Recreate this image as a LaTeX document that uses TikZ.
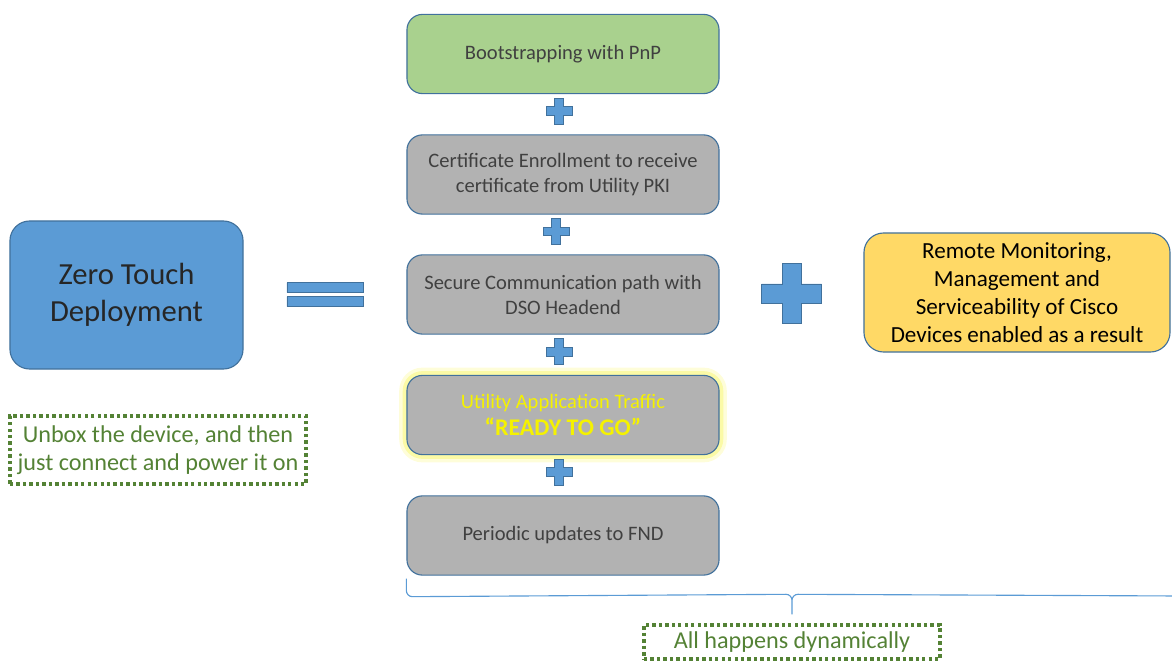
\documentclass[tikz,border=0pt]{standalone}
\usepackage{fontspec}
\setmainfont{Carlito}
\usetikzlibrary{calc}

\definecolor{boxblue}{HTML}{5B9BD5}
\definecolor{edgeblue}{HTML}{41719C}
\definecolor{stepgreen}{HTML}{A9D18E}
\definecolor{stepgray}{HTML}{B2B2B2}
\definecolor{resultyellow}{HTML}{FFD966}
\definecolor{notegreen}{HTML}{548235}
\definecolor{textgray}{HTML}{404040}
\definecolor{readyyellow}{HTML}{F5F200}

% plus sign: centre, half length, half thickness
\newcommand{\plusmark}[3]{%
  \filldraw[fill=boxblue, draw=edgeblue, line width=0.7pt, shift={#1}]
    (-#3,-#2) -- (#3,-#2) -- (#3,-#3) -- (#2,-#3) -- (#2,#3) -- (#3,#3)
    -- (#3,#2) -- (-#3,#2) -- (-#3,#3) -- (-#2,#3) -- (-#2,-#3) -- (-#3,-#3)
    -- cycle;}

\begin{document}
\begin{tikzpicture}[
  x=0.025cm, y=-0.025cm,
  stepbox/.style={draw=edgeblue, line width=0.8pt, rounded corners=11pt,
                  fill=stepgray, align=center, text=textgray,
                  font=\fontsize{14.6}{17.8}\selectfont,
                  minimum width=7.8cm, minimum height=1.98cm, inner sep=2pt},
  notebox/.style={draw=notegreen, line width=2.4pt, dash pattern=on 2.4pt off 2.2pt,
                  text=notegreen, align=center, inner sep=2pt,
                  font=\fontsize{17.2}{20}\selectfont},
]
\useasboundingbox (0,0) rectangle (1172,662);

\node[stepbox, fill=stepgreen] (boot) at (563,54) {Bootstrapping with PnP};
\node[stepbox] (cert) at (563,174.5) {Certificate Enrollment to receive\\certificate from Utility PKI};
\node[stepbox] (secure) at (563,294.5) {Secure Communication path with\\DSO Headend};
\node[stepbox, text=readyyellow,
      preaction={draw=readyyellow!15, line width=11pt},
      preaction={draw=readyyellow!35, line width=6pt}] (ready) at (563,415)
  {Utility Application Traffic\\[2pt]{\fontsize{17}{20}\selectfont\bfseries ``READY TO GO''}};
\node[stepbox] (fnd) at (563,535.5) {Periodic updates to FND};

\node[draw=edgeblue, line width=0.8pt, rounded corners=14pt, fill=boxblue,
      minimum width=5.825cm, minimum height=3.7cm, align=center, text=black!85,
      font=\fontsize{21.8}{26.3}\selectfont] (ztd) at (126.5,295) {Zero Touch\\Deployment};
\node[draw=edgeblue, line width=0.8pt, rounded corners=14pt, fill=resultyellow,
      minimum width=7.65cm, minimum height=2.975cm, align=center, text=black,
      font=\fontsize{16.4}{20}\selectfont] (result) at (1017,292.5)
  {Remote Monitoring,\\Management and\\Serviceability of Cisco\\Devices enabled as a result};

\node[notebox, minimum width=7.4cm, minimum height=1.7cm] (unbox) at (158,450)
  {Unbox the device, and then\\just connect and power it on};
\node[notebox, minimum width=7.4cm, minimum height=0.85cm, inner sep=0pt] (dyn) at (792,642)
  {All happens dynamically};

% plus signs between the steps
\plusmark{($(boot.south)!0.5!(cert.north)+(-4,-3)$)}{13}{4.3}
\plusmark{($(cert.south)!0.5!(secure.north)+(-7,-3)$)}{13}{4.3}
\plusmark{($(secure.south)!0.5!(ready.north)+(-4,-3)$)}{13}{4.3}
\plusmark{($(ready.south)!0.5!(fnd.north)+(-4,-3)$)}{13}{4.3}
\plusmark{($(secure.east)!0.5!(result.west)$)}{30}{9.5}

% equals sign
\coordinate (eq) at ($(ztd.east)!0.5!(secure.west)$);
\filldraw[fill=boxblue, draw=edgeblue, line width=0.7pt]
  ($(eq)+(-38,-12)$) rectangle ($(eq)+(38,-2)$)
  ($(eq)+(-38,2)$) rectangle ($(eq)+(38,12)$);

% brace under the steps
\coordinate (bl) at ($(fnd.south west)+(0,3)$);
\draw[boxblue, line width=0.8pt]
  (bl) -- ++(0,12) to[out=-90,in=180] ++(6,6) -- ($(dyn.north)+(-6,-29)$)
  to[out=0,in=90] ($(dyn.north)+(0,-23)$) -- ($(dyn.north)+(0,-9)$)
  ($(dyn.north)+(0,-23)$) to[out=90,in=180] ($(dyn.north)+(6,-29)$) -- (1180,596);
\end{tikzpicture}
\end{document}
